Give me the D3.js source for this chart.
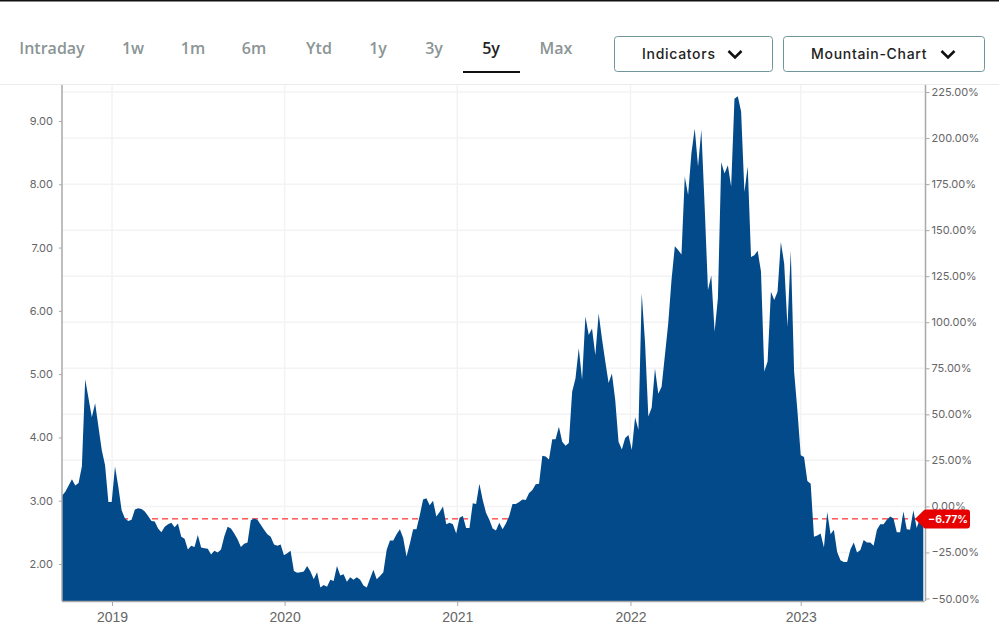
<!DOCTYPE html>
<html lang="en">
<head>
    <meta charset="UTF-8">
    <title>5y mountain chart</title>
    <script src="https://cdn.jsdelivr.net/npm/d3@7"></script>
    <style>
        html, body { margin: 0; padding: 0; background: #fff; }
        svg { display: block; }
        .tab { font: 600 16px "Open Sans", sans-serif; fill: #8b9595; text-anchor: middle; }
        .tab.active { fill: #222; }
        .btn-label { font: 500 14px Inter, sans-serif; letter-spacing: 0.7px; fill: #222; }
        .y-axis text { font: 11px Inter, sans-serif; fill: #666; }
        .x-axis text { font: 14px "Liberation Sans", sans-serif; fill: #666; }
        .domain, .tick line { stroke: #a8a8a8; }
    </style>
</head>
<body>
<div id="chart"></div>
<script>
    const tabs = ["Intraday", "1w", "1m", "6m", "Ytd", "1y", "3y", "5y", "Max"];
    const activeTab = "5y";
    const buttons = ["Indicators", "Mountain-Chart"];

    const priceTicks = [2, 3, 4, 5, 6, 7, 8, 9];
    const percentTicks = [-50, -25, 0, 25, 50, 75, 100, 125, 150, 175, 200, 225];
    const yearLabels = ["2019", "2020", "2021", "2022", "2023"];
    // first week of each year, counted in weeks on the chart
    const yearWeeks = [15.1, 67.2, 119.3, 171.6, 223];

    const basePrice = 2.91;
    const lastPercent = -6.77;

    // weekly closes
    const weeklyClose = [
        3.08, 3.14, 3.24, 3.34, 3.24, 3.28, 3.54, 4.92, 4.62, 4.32,
        4.54, 4.17, 3.80, 3.56, 2.98, 2.98, 3.54, 3.22, 2.85, 2.72,
        2.68, 2.70, 2.86, 2.88, 2.87, 2.83, 2.76, 2.68, 2.67, 2.56,
        2.50, 2.59, 2.63, 2.65, 2.58, 2.64, 2.43, 2.40, 2.23, 2.29,
        2.27, 2.46, 2.26, 2.25, 2.24, 2.15, 2.21, 2.18, 2.23, 2.44,
        2.59, 2.56, 2.48, 2.39, 2.27, 2.32, 2.34, 2.69, 2.72, 2.70,
        2.62, 2.54, 2.47, 2.43, 2.31, 2.29, 2.31, 2.14, 2.17, 2.21,
        1.89, 1.86, 1.87, 1.88, 1.97, 1.88, 1.76, 1.87, 1.63, 1.67,
        1.64, 1.75, 1.73, 1.97, 1.82, 1.84, 1.72, 1.79, 1.75, 1.79,
        1.75, 1.66, 1.63, 1.77, 1.91, 1.76, 1.81, 1.87, 2.22, 2.37,
        2.37, 2.47, 2.55, 2.41, 2.12, 2.32, 2.55, 2.55, 2.77, 3.02,
        3.04, 2.93, 3.00, 2.75, 2.82, 2.91, 2.63, 2.65, 2.63, 2.48,
        2.73, 2.76, 2.57, 2.57, 2.96, 2.95, 3.27, 3.01, 2.81, 2.70,
        2.56, 2.53, 2.65, 2.55, 2.64, 2.76, 2.95, 2.95, 2.98, 3.02,
        3.01, 3.12, 3.17, 3.26, 3.27, 3.71, 3.70, 3.65, 3.97, 3.97,
        4.17, 3.93, 3.87, 3.91, 4.72, 4.93, 5.41, 4.91, 5.91, 5.62,
        5.72, 5.30, 5.96, 5.56, 5.20, 4.86, 5.01, 4.59, 3.93, 3.81,
        3.99, 4.04, 3.80, 4.32, 4.12, 6.28, 5.50, 4.33, 4.47, 5.09,
        4.69, 4.80, 5.30, 5.80, 6.49, 7.02, 6.96, 6.89, 8.12, 7.83,
        8.49, 8.88, 8.28, 8.86, 7.65, 6.33, 6.56, 5.67, 6.20, 8.35,
        8.17, 8.30, 7.96, 9.35, 9.39, 9.15, 7.88, 8.28, 6.85, 6.88,
        6.95, 6.62, 5.04, 5.20, 6.30, 6.17, 6.30, 7.09, 6.75, 5.75,
        6.95, 5.04, 4.42, 3.72, 3.69, 3.31, 3.27, 2.43, 2.45, 2.48,
        2.26, 2.82, 2.47, 2.54, 2.19, 2.06, 2.03, 2.03, 2.23, 2.34,
        2.18, 2.22, 2.38, 2.34, 2.34, 2.29, 2.54, 2.63, 2.63, 2.70,
        2.75, 2.72, 2.50, 2.50, 2.83, 2.55, 2.54, 2.85, 2.57, 2.72,
        2.713
    ];

    const width = 999;
    const height = 638;
    const plot = {left: 62, right: 924.5, top: 85, bottom: 601};

    const svg = d3.select("#chart").append("svg")
        .attr("width", width)
        .attr("height", height);

    // page furniture
    svg.append("rect").attr("width", width).attr("height", 1.5).attr("fill", "#111");
    svg.append("line")
        .attr("x1", 0).attr("x2", width).attr("y1", 84.5).attr("y2", 84.5)
        .attr("stroke", "#ebebeb");

    const tabCenters = [52, 133, 193, 254, 319, 378, 434, 491, 556];
    svg.selectAll(".tab")
        .data(tabs)
        .join("text")
        .attr("class", d => d === activeTab ? "tab active" : "tab")
        .attr("x", (d, i) => tabCenters[i])
        .attr("y", 53.5)
        .text(d => d);
    svg.append("rect")
        .attr("x", 463).attr("y", 71).attr("width", 57).attr("height", 2)
        .attr("fill", "#111");

    const buttonBoxes = [
        {x: 614.5, w: 158, label: 642, arrow: 735},
        {x: 783.5, w: 201, label: 811, arrow: 948}
    ];
    const btn = svg.selectAll(".btn")
        .data(buttons)
        .join("g")
        .attr("class", "btn");
    btn.append("rect")
        .attr("x", (d, i) => buttonBoxes[i].x)
        .attr("y", 36.5)
        .attr("width", (d, i) => buttonBoxes[i].w)
        .attr("height", 35)
        .attr("rx", 3)
        .attr("fill", "#fff")
        .attr("stroke", "#6f9698");
    btn.append("text")
        .attr("class", "btn-label")
        .attr("x", (d, i) => buttonBoxes[i].label)
        .attr("y", 58.5)
        .text(d => d);
    btn.append("path")
        .attr("d", (d, i) => {
            const a = buttonBoxes[i].arrow;
            return `M${a - 6.5},51 L${a},57.5 L${a + 6.5},51`;
        })
        .attr("fill", "none")
        .attr("stroke", "#111")
        .attr("stroke-width", 2.6);

    // scales
    const x = d3.scaleLinear()
        .domain([0, weeklyClose.length - 1])
        .range([plot.left, plot.right - 1.2]);
    const y = d3.scaleLinear()
        .domain([2, 9])
        .range([564, 121]);
    const percentToPrice = p => basePrice * (1 + p / 100);

    // grid
    const grid = svg.append("g").attr("stroke", "#f3f3f3").attr("stroke-width", 1.5);
    grid.selectAll(".h")
        .data(percentTicks.filter(p => p > -50))
        .join("line")
        .attr("x1", plot.left).attr("x2", plot.right)
        .attr("y1", d => y(percentToPrice(d)))
        .attr("y2", d => y(percentToPrice(d)));
    grid.selectAll(".v")
        .data(yearWeeks)
        .join("line")
        .attr("x1", d => x(d)).attr("x2", d => x(d))
        .attr("y1", plot.top).attr("y2", plot.bottom);

    // last price line sits behind the mountain
    const lastY = y(percentToPrice(lastPercent));
    svg.append("line")
        .attr("x1", plot.left).attr("x2", plot.right - 5)
        .attr("y1", lastY).attr("y2", lastY)
        .attr("stroke", "#f00")
        .attr("stroke-width", 1)
        .attr("stroke-dasharray", "6,4");

    const area = d3.area()
        .x((d, i) => x(i))
        .y0(plot.bottom)
        .y1(d => y(d));
    svg.append("path")
        .datum(weeklyClose)
        .attr("d", area)
        .attr("fill", "#034a8a");

    // axes
    const leftAxis = svg.append("g")
        .attr("class", "y-axis")
        .attr("transform", `translate(${plot.left},0)`)
        .call(d3.axisLeft(y).tickValues(priceTicks).tickFormat(d3.format(".2f")).tickSize(3).tickPadding(6).tickSizeOuter(0));
    leftAxis.select(".domain").attr("d", `M0,${plot.top}V${plot.bottom}`).attr("stroke-width", 1.5);

    const percentScale = d3.scaleLinear()
        .domain([-50, 225])
        .range([y(percentToPrice(-50)), y(percentToPrice(225))]);
    const rightAxis = svg.append("g")
        .attr("class", "y-axis")
        .attr("transform", `translate(${plot.right + 1},0)`)
        .call(d3.axisRight(percentScale).tickValues(percentTicks).tickFormat(d => d3.format(".2f")(d) + "%").tickSize(4).tickPadding(2).tickSizeOuter(0));
    rightAxis.select(".domain").attr("d", `M0,${plot.top}V${plot.bottom}`).attr("stroke-width", 1.5);

    const bottomAxis = svg.append("g")
        .attr("class", "x-axis")
        .attr("transform", `translate(0,${plot.bottom})`)
        .call(d3.axisBottom(x).tickValues(yearWeeks).tickFormat((d, i) => yearLabels[i]).tickSize(5).tickPadding(6).tickSizeOuter(0));
    bottomAxis.select(".domain").attr("d", `M${plot.left},0.5H${plot.right}`).attr("stroke-width", 1.5);

    // last value tag
    const tag = svg.append("g").attr("transform", `translate(0,${lastY})`);
    tag.append("path")
        .attr("d", "M915,0 L923,-8 Q924,-9.5 926,-9.5 H967 Q970,-9.5 970,-6.5 V6.5 Q970,9.5 967,9.5 H926 Q924,9.5 923,8 Z")
        .attr("fill", "#e60000");
    tag.append("text")
        .attr("x", 948)
        .attr("y", 3.8)
        .attr("text-anchor", "middle")
        .attr("fill", "#fff")
        .style("font", "700 10.5px Inter, sans-serif")
        .text(d3.format(".2f")(lastPercent) + "%");
</script>
</body>
</html>
